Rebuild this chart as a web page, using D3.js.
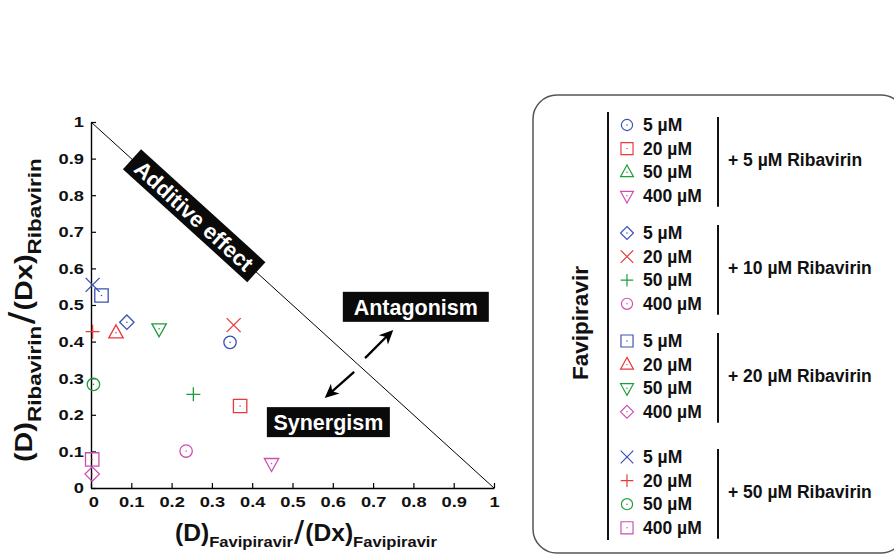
<!DOCTYPE html>
<html><head><meta charset="utf-8">
<script src="https://cdn.jsdelivr.net/npm/d3@7"></script>
<style>
html,body{margin:0;padding:0;background:#fff;}
</style></head>
<body>
<svg id="chart" width="894" height="555" font-family="'Liberation Sans',Arial,Helvetica,sans-serif" font-weight="bold"></svg>
<script>
// ---- data ----
const ribavirinGroups = ["+ 5 µM Ribavirin", "+ 10 µM Ribavirin", "+ 20 µM Ribavirin", "+ 50 µM Ribavirin"];
const favipiravirDoses = ["5 µM", "20 µM", "50 µM", "400 µM"];
const doseColors = ["#3b50b5", "#e8393b", "#1f9b3a", "#cc4fb0"];
const groupShapes = [
  ["circle", "square", "triangle", "triangleDown"],
  ["diamond", "cross", "plus", "circle"],
  ["square", "triangle", "triangleDown", "diamond"],
  ["cross", "plus", "circle", "square"]
];
// normalized favipiravir dose (x) per group, per favipiravir dose
const favX = [
  [0.345, 0.370, null, 0.448],
  [0.089, 0.354, 0.254, 0.236],
  [0.026, 0.062, 0.169, 0.003],
  [0.004, 0.004, 0.006, 0.003]
];
// normalized ribavirin dose (y)
const ribY = [
  [0.398, 0.224, null, 0.067],
  [0.453, 0.445, 0.256, 0.101],
  [0.526, 0.424, 0.435, 0.038],
  [0.555, 0.427, 0.283, 0.078]
];
const tickValues = [0, 0.1, 0.2, 0.3, 0.4, 0.5, 0.6, 0.7, 0.8, 0.9, 1];
const tickLabels = ["0", "0.1", "0.2", "0.3", "0.4", "0.5", "0.6", "0.7", "0.8", "0.9", "1"];

// ---- setup ----
const svg = d3.select("#chart");
const x = d3.scaleLinear().domain([0, 1]).range([91, 494]);
const y = d3.scaleLinear().domain([0, 1]).range([488, 122]);

function shapePath(type) {
  switch (type) {
    case "circle": { const r = 6.2; return `M${r},0A${r},${r},0,1,1,${-r},0A${r},${r},0,1,1,${r},0Z`; }
    case "square": { const h = 6.7; return `M${-h},${-h}H${h}V${h}H${-h}Z`; }
    case "triangle": return "M0,-8L7.2,5L-7.2,5Z";
    case "triangleDown": return "M0,8L7.2,-5L-7.2,-5Z";
    case "diamond": return "M0,-7.2L7.2,0L0,7.2L-7.2,0Z";
    case "cross": return "M-7,-7L7,7M-7,7L7,-7";
    case "plus": return "M-7,0H7M0,-7V7";
  }
}
function drawMarker(g, type, color) {
  g.append("path").attr("d", shapePath(type)).attr("fill", "none")
    .attr("stroke", color).attr("stroke-width", 1.3);
  if (type !== "cross" && type !== "plus") {
    g.append("circle").attr("r", 0.8).attr("fill", color);
  }
}

// ---- axes ----
const fmt = d => tickLabels[tickValues.indexOf(d)];
const yAxis = svg.append("g").attr("transform", `translate(${x(0)},0)`)
  .call(d3.axisLeft(y).tickValues(tickValues).tickFormat(fmt).tickSize(-5).tickSizeOuter(0).tickPadding(7));
const xAxis = svg.append("g").attr("transform", `translate(0,${y(0)})`)
  .call(d3.axisBottom(x).tickValues(tickValues).tickFormat(fmt).tickSize(-5).tickSizeOuter(0).tickPadding(8));
[xAxis, yAxis].forEach(a => {
  a.attr("font-family", null).attr("font-size", null);
  a.select(".domain").attr("stroke", "#000").attr("stroke-width", 1.4);
  a.selectAll(".tick line").attr("stroke", "#000").attr("stroke-width", 1.2);
  a.selectAll(".tick text").attr("font-size", 15.5).attr("fill", "#111");
});
// horizontally widened labels as in the original figure
yAxis.selectAll(".tick text").attr("transform", "translate(-7,0) scale(1.18,1) translate(7,0)");
xAxis.selectAll(".tick text").attr("transform", "scale(1.18,1)");
xAxis.selectAll(".tick").filter(d => d === 0).select("text").attr("dx", 2);

// additive line
svg.append("line").attr("x1", x(0)).attr("y1", y(1)).attr("x2", x(1)).attr("y2", y(0))
  .attr("stroke", "#000").attr("stroke-width", 1);

// ---- annotations ----
const ang = Math.atan2(y(0) - y(1), x(1) - x(0)) * 180 / Math.PI;
const addC = [x(0.256), y(0.744)];
const addG = svg.append("g").attr("transform", `translate(${addC[0]},${addC[1]}) rotate(${ang})`);
addG.append("rect").attr("x", -84).attr("y", -13.5).attr("width", 168).attr("height", 27).attr("fill", "#0a0a0a");
addG.append("text").attr("text-anchor", "middle").attr("y", 8).attr("font-size", 22)
  .attr("fill", "#fff").text("Additive effect");

function labelBox(cx, cy, w, h, txt, fs) {
  svg.append("rect").attr("x", x(cx) - w / 2).attr("y", y(cy) - h / 2).attr("width", w).attr("height", h).attr("fill", "#0a0a0a");
  svg.append("text").attr("x", x(cx)).attr("y", y(cy) + fs * 0.36).attr("text-anchor", "middle")
    .attr("font-size", fs).attr("fill", "#fff").text(txt);
}
labelBox(0.806, 0.495, 146, 30, "Antagonism", 21.5);
labelBox(0.589, 0.180, 123, 30, "Synergism", 21.5);

function arrow(x1, y1, x2, y2) {
  const X1 = x(x1), Y1 = y(y1), X2 = x(x2), Y2 = y(y2);
  const a = Math.atan2(Y2 - Y1, X2 - X1) * 180 / Math.PI;
  const len = Math.hypot(X2 - X1, Y2 - Y1);
  const g = svg.append("g").attr("transform", `translate(${X1},${Y1}) rotate(${a})`);
  g.append("line").attr("x1", 0).attr("y1", 0).attr("x2", len - 8).attr("y2", 0)
    .attr("stroke", "#000").attr("stroke-width", 2.3);
  g.append("path").attr("d", `M${len},0L${len - 14},-6.5L${len - 10},0L${len - 14},6.5Z`).attr("fill", "#000");
}
arrow(0.680, 0.355, 0.750, 0.432);
arrow(0.653, 0.317, 0.580, 0.246);

// ---- points ----
const points = [];
ribavirinGroups.forEach((g, gi) => favipiravirDoses.forEach((d, di) => {
  if (favX[gi][di] != null) points.push({ gi, di, x: favX[gi][di], y: ribY[gi][di] });
}));
svg.append("g").selectAll("g").data(points).join("g")
  .attr("transform", d => `translate(${x(d.x)},${y(d.y)})`)
  .each(function (d) { drawMarker(d3.select(this), groupShapes[d.gi][d.di], doseColors[d.di]); });

// ---- axis titles (composite text) ----
function compositeTitle(parent, parts, targetLen) {
  const g = parent.append("g");
  let cx = 0;
  parts.forEach(p => {
    cx += (p.pre || 0);
    const t = g.append("text").attr("x", cx).attr("y", p.dy).attr("font-size", p.size)
      .attr("font-weight", p.weight || "bold").attr("fill", "#111").text(p.t);
    cx += t.node().getComputedTextLength() + (p.gap || 0);
  });
  const s = targetLen / cx;
  g.attr("transform", `scale(${s},1) translate(${-cx / 2},0)`);
  return g;
}
const xt = svg.append("g").attr("transform", `translate(306,541)`);
compositeTitle(xt, [
  { t: "(D)", size: 23, dy: 0 },
  { t: "Favipiravir", size: 15.5, dy: 6 },
  { t: "/", size: 34, dy: 3, weight: "normal", pre: 1, gap: 1 },
  { t: "(Dx)", size: 23, dy: 0 },
  { t: "Favipiravir", size: 15.5, dy: 6 }
], 262);

const yt = svg.append("g").attr("transform", `translate(32,310) rotate(-90)`);
compositeTitle(yt, [
  { t: "(D)", size: 23, dy: 0 },
  { t: "Ribavirin", size: 18, dy: 9 },
  { t: "/", size: 36, dy: 3, weight: "normal", pre: 1, gap: 1 },
  { t: "(Dx)", size: 23, dy: 0 },
  { t: "Ribavirin", size: 18, dy: 9 }
], 304);

// ---- legend ----
const lg = svg.append("g");
lg.append("rect").attr("x", 533).attr("y", 95).attr("width", 372).attr("height", 458).attr("rx", 24)
  .attr("fill", "#fff").attr("stroke", "#555").attr("stroke-width", 1.5);
lg.append("text").attr("transform", "translate(588,323) rotate(-90)").attr("text-anchor", "middle")
  .attr("font-size", 22.5).attr("fill", "#111").text("Favipiravir");
lg.append("line").attr("x1", 608).attr("x2", 608).attr("y1", 112).attr("y2", 540)
  .attr("stroke", "#111").attr("stroke-width", 2);
const groupStart = [125, 233, 341, 457];
const rowStep = 23.6;
ribavirinGroups.forEach((gName, gi) => {
  const y0 = groupStart[gi];
  favipiravirDoses.forEach((d, di) => {
    const ry = y0 + di * rowStep;
    const mg = lg.append("g").attr("transform", `translate(627,${ry}) scale(0.9)`);
    drawMarker(mg, groupShapes[gi][di], doseColors[di]);
    lg.append("text").attr("x", 643).attr("y", ry + 6).attr("font-size", 17.5).attr("fill", "#111").text(d);
  });
  const yEnd = y0 + 3 * rowStep;
  lg.append("line").attr("x1", 718).attr("x2", 718).attr("y1", y0 - 8).attr("y2", yEnd + 11)
    .attr("stroke", "#111").attr("stroke-width", 2);
  lg.append("text").attr("x", 728).attr("y", (y0 + yEnd) / 2 + 6).attr("font-size", 17.5)
    .attr("fill", "#111").text(gName);
});
</script>
</body></html>
